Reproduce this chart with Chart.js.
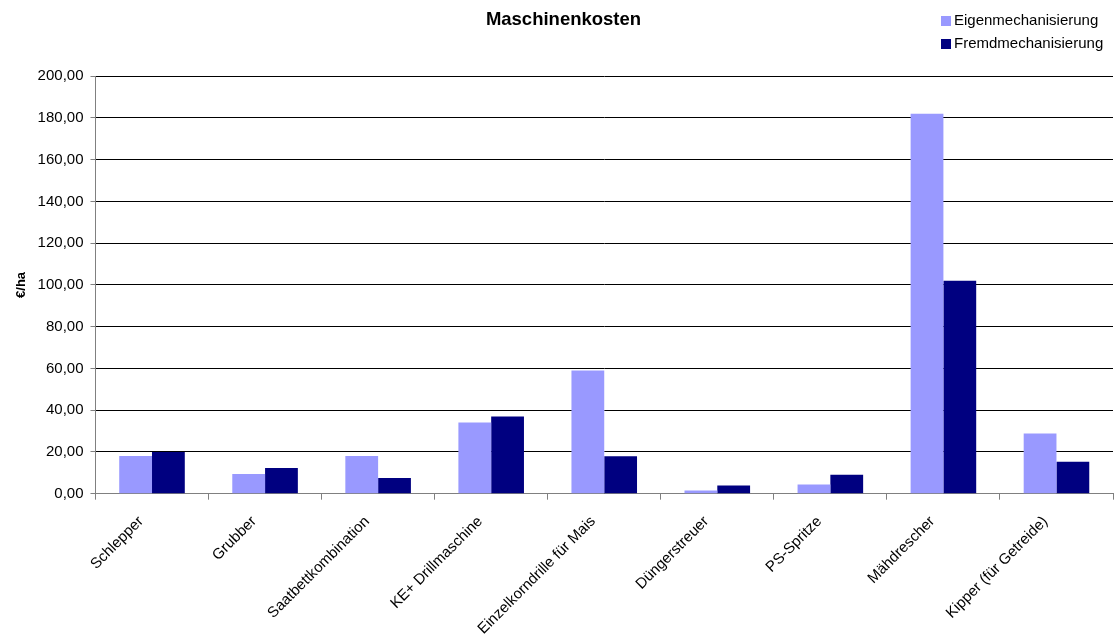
<!DOCTYPE html>
<html>
<head>
<meta charset="utf-8">
<script src="https://cdn.jsdelivr.net/npm/chart.js@4"></script>
<style>
  html, body { margin: 0; padding: 0; background: #fff; overflow: hidden; }
  #wrap { width: 1114px; height: 634px; overflow: hidden; }
</style>
</head>
<body>
<div id="wrap"><canvas id="grafica" width="1114" height="651"></canvas></div>
<script>
// Daten
const kategorien = ["Schlepper", "Grubber", "Saatbettkombination", "KE+ Drillmaschine",
  "Einzelkorndrille für Mais", "Düngerstreuer", "PS-Spritze", "Mähdrescher", "Kipper (für Getreide)"];
const eigen = [18.1, 9.4, 18.1, 34.1, 59.0, 1.5, 4.4, 182.0, 28.8];
const fremd = [20.0, 12.3, 7.5, 37.0, 17.9, 3.9, 9.1, 102.0, 15.3];
const serienNamen = ["Eigenmechanisierung", "Fremdmechanisierung"];
const farben = ["#9999ff", "#000080"];

const schrift = "'Liberation Sans', Arial, sans-serif";

// Legende oben rechts, senkrecht gestapelt
const legendePlugin = {
  id: 'legendeRechts',
  afterDraw(chart) {
    const c = chart.ctx;
    c.save();
    c.font = "15px " + schrift;
    c.textBaseline = 'middle';
    chart.data.datasets.forEach(function (ds, i) {
      const y = 21 + i * 23;
      c.fillStyle = ds.backgroundColor;
      c.fillRect(941, y - 5, 10, 10);
      c.fillStyle = '#000';
      c.fillText(ds.label, 954, y);
    });
    c.restore();
  }
};

const ctx = document.getElementById('grafica').getContext('2d');
const grafica = new Chart(ctx, {
  type: 'bar',
  data: {
    labels: kategorien,
    datasets: [
      { label: serienNamen[0], data: eigen, backgroundColor: farben[0] },
      { label: serienNamen[1], data: fremd, backgroundColor: farben[1] }
    ]
  },
  options: {
    responsive: false,
    animation: false,
    layout: { padding: { left: 14, right: 1, top: 0, bottom: 0 } },
    datasets: { bar: { categoryPercentage: 0.58, barPercentage: 1.0 } },
    plugins: {
      legend: { display: false },
      tooltip: { enabled: false },
      title: {
        display: true,
        text: 'Maschinenkosten',
        color: '#000',
        font: { family: schrift, size: 18.5, weight: 'bold' },
        padding: { top: 9, bottom: 45 }
      }
    },
    scales: {
      x: {
        grid: { offset: true, drawOnChartArea: false, drawTicks: true, tickLength: 6, color: '#808080' },
        border: { color: '#808080', width: 1 },
        ticks: {
          color: '#000',
          font: { family: schrift, size: 15 },
          minRotation: 45,
          maxRotation: 45,
          autoSkip: false,
          padding: 13,
          labelOffset: -11
        }
      },
      y: {
        min: 0,
        max: 200,
        ticks: {
          stepSize: 20,
          color: '#000',
          font: { family: schrift, size: 15 },
          padding: 7,
          callback: function (v) { return v.toFixed(2).replace('.', ','); }
        },
        grid: { color: '#000', tickLength: 5, tickColor: '#808080' },
        border: { color: '#808080', width: 1 },
        title: {
          display: true,
          text: '€/ha',
          color: '#000',
          font: { family: schrift, size: 13, weight: 'bold' },
          padding: { top: 0, bottom: 1 }
        }
      }
    }
  },
  plugins: [legendePlugin]
});
</script>
</body>
</html>
